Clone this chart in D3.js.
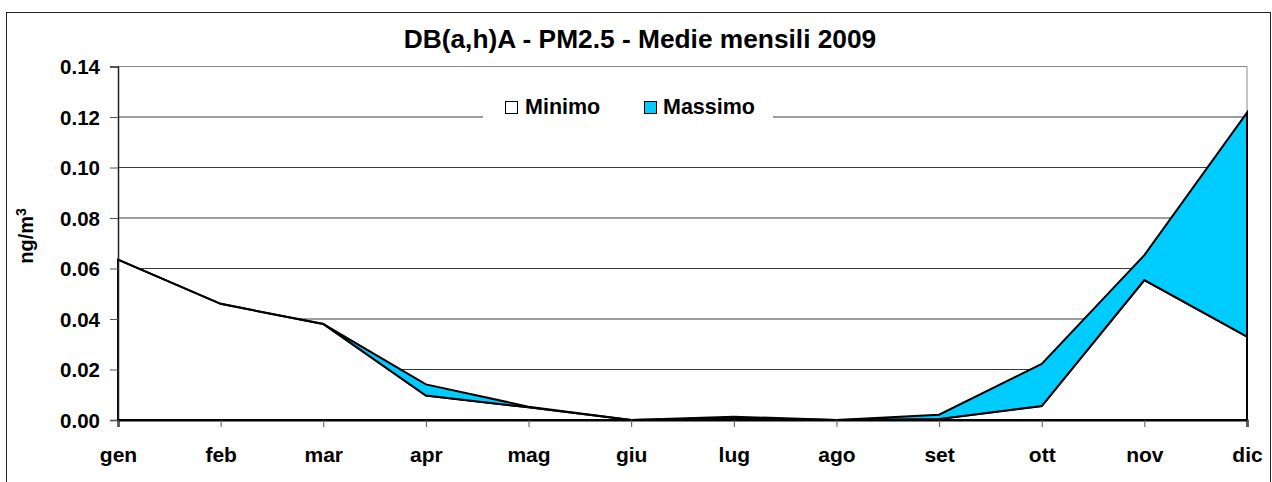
<!DOCTYPE html>
<html>
<head>
<meta charset="utf-8">
<script src="https://cdn.jsdelivr.net/npm/d3@7"></script>
<style>
  html, body { margin: 0; padding: 0; background: #fff; }
  svg { display: block; }
  text { font-family: "Liberation Sans", Arial, sans-serif; font-weight: bold; fill: #000; }
</style>
</head>
<body>
<svg id="chart" width="1272" height="482"></svg>
<script>
// Monthly means of DB(a,h)A in PM2.5, 2009 (ng/m3)
const months = ["gen", "feb", "mar", "apr", "mag", "giu", "lug", "ago", "set", "ott", "nov", "dic"];
const minimo = [0.0635, 0.046, 0.038, 0.0097, 0.005, 0.0, 0.0008, 0.0, 0.0004, 0.0055, 0.0554, 0.033];
const massimo = [0.0635, 0.046, 0.038, 0.0141, 0.0053, 0.0, 0.0013, 0.0, 0.0021, 0.0222, 0.0653, 0.1217];
const yTicks = [0, 0.02, 0.04, 0.06, 0.08, 0.10, 0.12, 0.14];
const seriesNames = ["Minimo", "Massimo"];
const seriesColors = ["#ffffff", "#00ccff"];

const svg = d3.select("#chart");

const plot = { left: 118, right: 1247, top: 66.5, bottom: 420 };

const x = d3.scalePoint().domain(months).range([plot.left, plot.right]).padding(0);
const y = d3.scaleLinear().domain([0, 0.14]).range([plot.bottom, plot.top]);

// Outer frame
svg.append("rect")
  .attr("x", 6.5).attr("y", 12.5)
  .attr("width", 1264).attr("height", 490)
  .attr("fill", "#fff").attr("stroke", "#222").attr("stroke-width", 1);

// Title
svg.append("text")
  .attr("x", 640).attr("y", 48)
  .attr("text-anchor", "middle")
  .style("font-size", "26.3px")
  .text("DB(a,h)A - PM2.5 - Medie mensili 2009");

// Horizontal gridlines
svg.append("g")
  .selectAll("line")
  .data(yTicks.filter(d => d > 0))
  .join("line")
  .attr("x1", plot.left).attr("x2", plot.right)
  .attr("y1", d => y(d)).attr("y2", d => y(d))
  .attr("stroke", d => d === 0.14 ? "#8a8a8a" : "#3a3a3a")
  .attr("stroke-width", 1);

// Plot-area right edge
svg.append("line")
  .attr("x1", plot.right).attr("x2", plot.right)
  .attr("y1", plot.top).attr("y2", plot.bottom)
  .attr("stroke", "#8a8a8a").attr("stroke-width", 1);

// Stacked areas: minimum from zero, maximum band above the minimum
const rows = months.map((m, i) => ({ m, lo: minimo[i], hi: massimo[i] }));

const areaMin = d3.area()
  .x(d => x(d.m))
  .y0(() => y(0))
  .y1(d => y(d.lo));

const areaMax = d3.area()
  .x(d => x(d.m))
  .y0(d => y(d.lo))
  .y1(d => y(d.hi));

svg.append("path")
  .datum(rows)
  .attr("d", areaMin)
  .attr("fill", seriesColors[0])
  .attr("stroke", "#000").attr("stroke-width", 2)
  .attr("stroke-linejoin", "miter");

svg.append("path")
  .datum(rows)
  .attr("d", areaMax)
  .attr("fill", seriesColors[1])
  .attr("stroke", "#000").attr("stroke-width", 2)
  .attr("stroke-linejoin", "miter");

// Y axis
const yAxis = svg.append("g")
  .attr("transform", `translate(${plot.left},0)`)
  .call(d3.axisLeft(y).tickValues(yTicks).tickFormat(d3.format(".2f")).tickSize(8).tickPadding(10));
yAxis.select(".domain").attr("stroke", "#222").attr("stroke-width", 1.5);
yAxis.selectAll(".tick line").attr("stroke", "#555");
yAxis.selectAll(".tick text")
  .style("font-size", "20.5px")
  .style("font-family", "'Liberation Sans', Arial, sans-serif")
  .style("font-weight", "bold")
  .attr("fill", "#000")
  .attr("dy", "0.36em");

// X axis
const xAxis = svg.append("g")
  .attr("transform", `translate(0,${plot.bottom})`)
  .call(d3.axisBottom(x).tickSize(7).tickPadding(20));
xAxis.select(".domain").attr("stroke", "#000").attr("stroke-width", 2.2);
xAxis.selectAll(".tick line").attr("stroke", "#555");
xAxis.selectAll(".tick text")
  .style("font-size", "21px")
  .style("font-family", "'Liberation Sans', Arial, sans-serif")
  .style("font-weight", "bold")
  .attr("fill", "#000");

// Y axis title with superscript
const yTitle = svg.append("text")
  .attr("transform", "translate(33,236) rotate(-90)")
  .attr("text-anchor", "middle")
  .style("font-size", "20px");
yTitle.append("tspan").text("ng/m");
yTitle.append("tspan").attr("dy", "-0.5em").style("font-size", "14px").text("3");

// Legend
const legend = svg.append("g");
legend.append("rect")
  .attr("x", 483).attr("y", 94)
  .attr("width", 290).attr("height", 30)
  .attr("fill", "#fff");

const legendItems = [
  { name: seriesNames[0], color: seriesColors[0], sx: 505, tx: 525 },
  { name: seriesNames[1], color: seriesColors[1], sx: 644, tx: 663 }
];
legend.selectAll("rect.key")
  .data(legendItems)
  .join("rect")
  .attr("class", "key")
  .attr("x", d => d.sx + 0.5).attr("y", 101.5)
  .attr("width", 12).attr("height", 12)
  .attr("fill", d => d.color)
  .attr("stroke", "#000").attr("stroke-width", 1);
legend.selectAll("text.label")
  .data(legendItems)
  .join("text")
  .attr("class", "label")
  .attr("x", d => d.tx).attr("y", 114)
  .style("font-size", "21.5px")
  .text(d => d.name);
</script>
</body>
</html>
